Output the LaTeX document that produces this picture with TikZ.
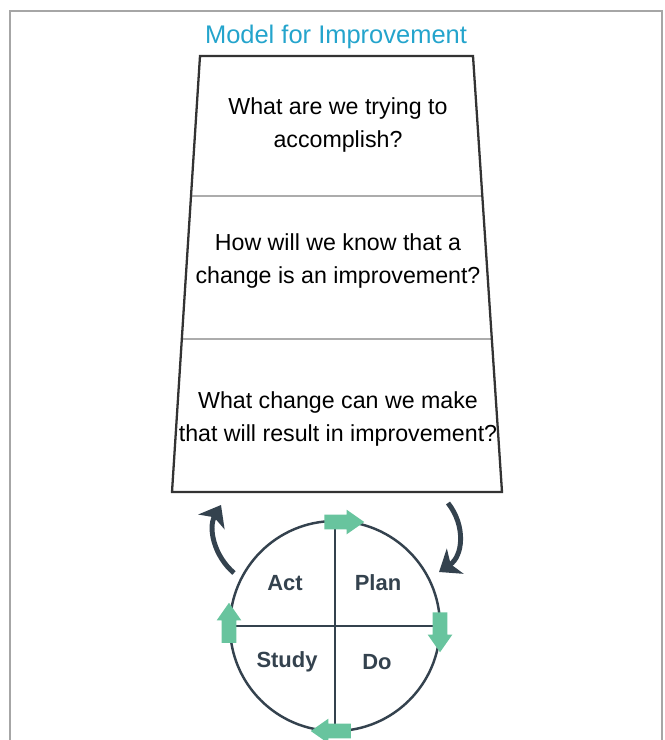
\documentclass[tikz,border=0pt]{standalone}
\usepackage{fontspec}
\setmainfont{Liberation Sans}
\usetikzlibrary{arrows.meta,calc,positioning,shapes.arrows}

\definecolor{titleblue}{RGB}{36,164,204}
\definecolor{slate}{RGB}{52,66,78}
\definecolor{mint}{RGB}{104,196,158}

\begin{document}
\begin{tikzpicture}
[x=0.02cm,y=-0.02cm,>=Stealth,font=\fontsize{13.2}{18.5}\selectfont]
\tikzstyle{question}=[align=center, inner sep=0pt]
\tikzstyle{phase}=[font=\fontsize{12.5}{14}\selectfont\bfseries, text=slate, inner sep=0pt]
\tikzstyle{flow}=[single arrow, fill=mint, draw=none, inner xsep=0pt, inner ysep=0.14cm, minimum height=0.8cm, single arrow head extend=0.1cm, single arrow tip angle=70]
\tikzstyle{turn}=[draw=slate, line width=2.8pt, -{Stealth[length=11pt,width=17pt,inset=3pt]}]

\useasboundingbox (0,0) rectangle (664,740);
\draw[gray!70, line width=0.6pt] (10,740) -- (10,11) -- (662,11) -- (662,740);

% title and the three questions
\node[text=titleblue, font=\fontsize{14.5}{16}\selectfont] (title) at (336,37) {Model for Improvement};

\coordinate (tl) at (200,56);
\coordinate (tr) at (473,56);
\coordinate (br) at (502,492);
\coordinate (bl) at (172,492);
\draw[gray!65, line width=0.9pt] ($(tl)!0.321!(bl)$) -- ($(tr)!0.321!(br)$);
\draw[gray!65, line width=0.9pt] ($(tl)!0.649!(bl)$) -- ($(tr)!0.649!(br)$);
\draw[black!80, line width=1.3pt] (tl) -- (tr) -- (br) -- (bl) -- cycle;

\node[question] (aim) at (338,125) {What are we trying to\\accomplish?};
\node[question] (measure) at (338,261) {How will we know that a\\change is an improvement?};
\node[question] (change) at (338,419) {What change can we make\\that will result in improvement?};

% PDSA cycle
\coordinate (hub) at (335,626);
\draw[slate, line width=1.4pt] (hub) circle [radius=105];
\draw[slate, line width=1.4pt] ($(hub)+(0,-105)$) -- ($(hub)+(0,105)$);
\draw[slate, line width=1.4pt] ($(hub)+(-105,0)$) -- ($(hub)+(105,0)$);

\node[phase] (act) at (285,583) {Act};
\node[phase] (plan) at (378,583) {Plan};
\node[phase] (study) at (287,662) {Study};
\node[phase] (do) at (377,662) {Do};

\node[flow] (toplan) at (339,522) {};
\node[flow, rotate=-90] (todo) at (440,627) {};
\node[flow, rotate=180] (tostudy) at (336,731) {};
\node[flow, rotate=90] (toact) at (229,628) {};

\coordinate (upfrom) at (234,573);
\coordinate (upto) at (221,505);
\coordinate (downfrom) at (448,503);
\coordinate (downto) at (439,572);
\path[turn] (upfrom) .. controls (214,556) and (208,528) .. (upto);
\path[turn] (downfrom) .. controls (466,526) and (463,556) .. (downto);
\end{tikzpicture}
\end{document}
